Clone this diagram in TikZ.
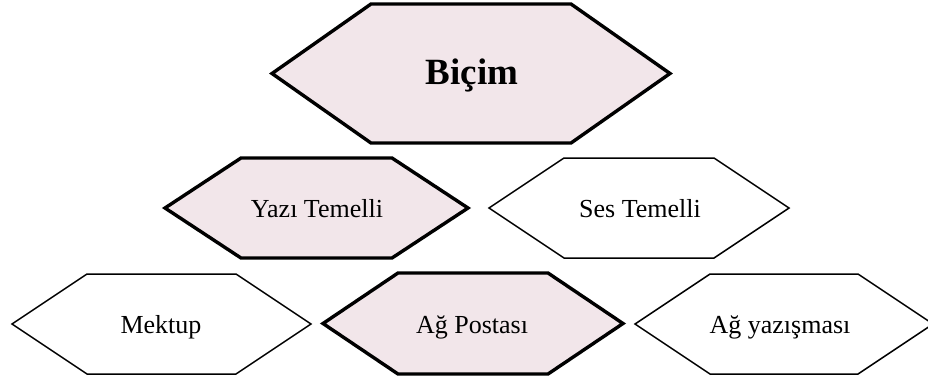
\documentclass[tikz,border=0pt]{standalone}
\usepackage{fontspec}
\setmainfont{Liberation Serif}
\definecolor{hexfill}{HTML}{F2E6EA}
\tikzset{
  hexon/.style={draw=black, line width=3.4pt, fill=hexfill, line join=miter},
  hexoff/.style={draw=black, line width=1.5pt, fill=white, line join=miter},
  lbl/.style={anchor=base, inner sep=0pt, font=\fontsize{26}{29}\selectfont},
  biglbl/.style={anchor=base, inner sep=0pt, font=\fontsize{37}{41}\selectfont\bfseries}
}
% #1 cx, #2 cy, #3 half width, #4 half height, #5 side run, #6 style
\newcommand\hexpath[6]{%
  \draw[#6] (#1-#3,#2) -- (#1-#3+#5,#2-#4) -- (#1+#3-#5,#2-#4) -- (#1+#3,#2)
    -- (#1+#3-#5,#2+#4) -- (#1-#3+#5,#2+#4) -- cycle;}
\begin{document}
\begin{tikzpicture}[x=1pt,y=-1pt]
\useasboundingbox (0,0) rectangle (928,384);
\fill[white] (0,0) rectangle (928,384);
\hexpath{471}{73.5}{199}{69.5}{99}{hexon}
\node[biglbl] (bicim) at (472,84) {Biçim};
\hexpath{316.5}{208}{151.5}{50}{76}{hexon}
\node[lbl] (yazi) at (317,217) {Yazı Temelli};
\hexpath{639}{208}{150}{50}{75}{hexoff}
\node[lbl] (ses) at (640,217) {Ses Temelli};
\hexpath{161.5}{324}{149.5}{50}{75}{hexoff}
\node[lbl] (mektup) at (161,333) {Mektup};
\hexpath{473}{323.5}{150}{50.5}{75}{hexon}
\node[lbl] (posta) at (472,333) {Ağ Postası};
\hexpath{784}{324}{149}{50}{75}{hexoff}
\node[lbl] (yazisma) at (780,333) {Ağ yazışması};
\end{tikzpicture}
\end{document}
